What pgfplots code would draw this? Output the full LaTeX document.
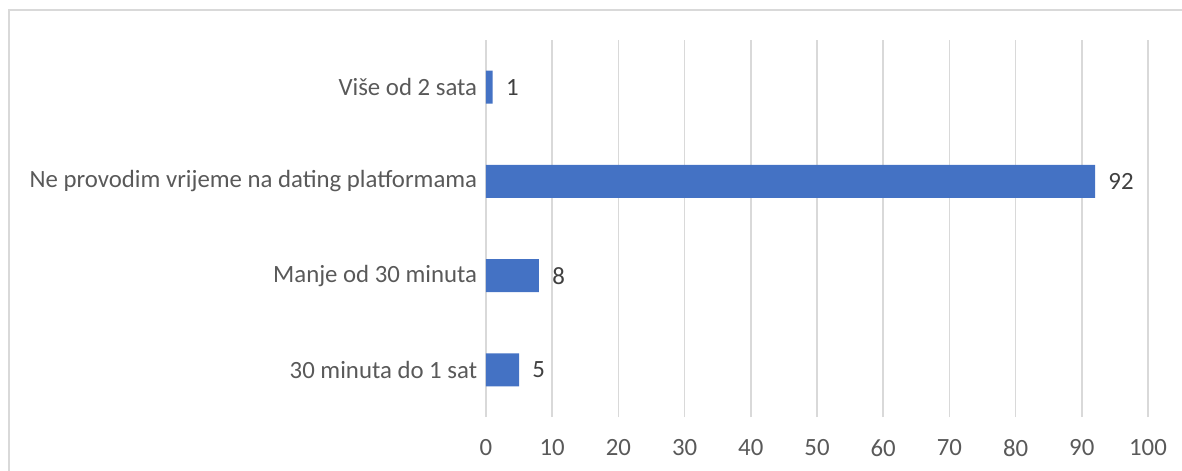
\documentclass[border=0pt]{standalone}
\usepackage{fontspec}
\setmainfont{Carlito}
\usepackage{pgfplots}
\pgfplotsset{compat=1.18}

\definecolor{barblue}{HTML}{4472C4}
\definecolor{gridgray}{HTML}{D9D9D9}
\definecolor{axtext}{HTML}{595959}
\definecolor{valtext}{HTML}{404040}

\begin{document}
\begin{tikzpicture}
  \begin{axis}[
      xbar,
      scale only axis,
      width=331bp, height=188.5bp,
      xmin=0, xmax=100,
      ymin=-0.5, ymax=3.5,
      xtick={0,10,...,100},
      ytick={0,1,2,3},
      yticklabels={30 minuta do 1 sat, Manje od 30 minuta,
                   Ne provodim vrijeme na dating platformama, Više od 2 sata},
      xmajorgrids,
      grid style={gridgray, line width=0.75bp},
      axis line style={draw=none},
      major tick style={draw=none},
      bar width=16.5bp,
      /pgf/number format/assume math mode=true,
      tick label style={font=\fontsize{12.4bp}{15bp}\selectfont, text=axtext, inner sep=0pt},
      xticklabel style={anchor=north, yshift=-11bp},
      yticklabel style={anchor=east, xshift=0bp},
      nodes near coords,
      nodes near coords style={font=\fontsize{12.4bp}{15bp}\selectfont, text=valtext,
                               anchor=west, inner sep=0pt, xshift=6.5bp},
    ]
    \addplot[fill=barblue, draw=none] coordinates {
      (5,0) (8,1) (92,2) (1,3)
    };
    \coordinate (O) at (rel axis cs:0,0);
  \end{axis}
  \pgfresetboundingbox
  \path[use as bounding box] ([shift={(-243bp,-27bp)}]O) rectangle ([shift={(348bp,208.5bp)}]O);
  \draw[gridgray, line width=0.75bp] ([shift={(-238.5bp,-40bp)}]O) -- ([shift={(-238.5bp,203.5bp)}]O)
        -- ([shift={(360bp,203.5bp)}]O);
\end{tikzpicture}
\end{document}
